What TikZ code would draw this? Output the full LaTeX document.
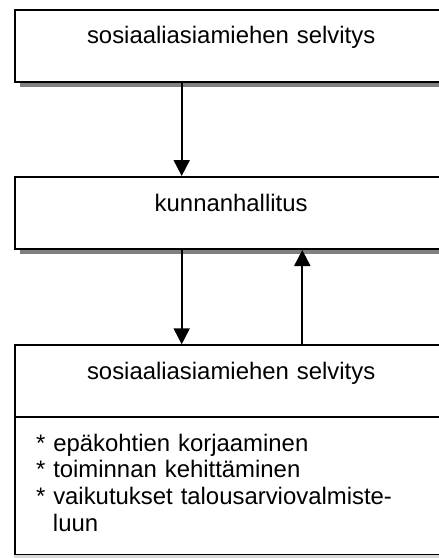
\documentclass[tikz,border=0pt]{standalone}
\usepackage{fontspec}
\setmainfont{Liberation Sans}
\usetikzlibrary{arrows.meta,shadows}
\begin{document}
\begin{tikzpicture}[x=1pt,y=-1pt,
  box/.style={draw, line width=2pt, fill=white, anchor=north west, inner sep=0pt,
    text width=431.7pt, minimum width=431.7pt, align=center,
    text height=34pt, text depth=38pt,
    font=\fontsize{23.9}{26.7}\selectfont},
  shadowed/.style={drop shadow={shadow xshift=5pt, shadow yshift=-5pt,
    fill=black!50, opacity=1}},
  flow/.style={line width=2pt, -{Triangle[width=16pt,length=16pt]}}]
\useasboundingbox (0,0) rectangle (439,558);
\clip (0,0) rectangle (439,558);

% boxes
\node[box, shadowed] (report) at (14.3,8.7) {sosiaaliasiamiehen selvitys};
\node[box, shadowed] (board) at (14.3,176) {kunnanhallitus};
\node[box] (reply) at (14.3,344.3) {sosiaaliasiamiehen selvitys};
\node[box, align=left, inner xsep=20.7pt, text width=390.3pt, text depth=104.1pt]
  (actions) at (14.3,416.2)
  {{*} epäkohtien korjaaminen\\
   {*} toiminnan kehittäminen\\
   {*} vaikutukset talousarviovalmiste-\\
   \hspace*{17pt}luun};
% faint lower edge of the list box
\draw[black!15, line width=2.5pt] (actions.south west) -- (actions.south east);

% connectors
\coordinate (left) at (181.7,0);
\coordinate (right) at (302.3,0);
\draw[flow] (report.south -| left) -- (board.north -| left);
\draw[flow] (board.south -| left) -- (reply.north -| left);
\draw[flow] (reply.north -| right) -- (board.south -| right);
\end{tikzpicture}
\end{document}
